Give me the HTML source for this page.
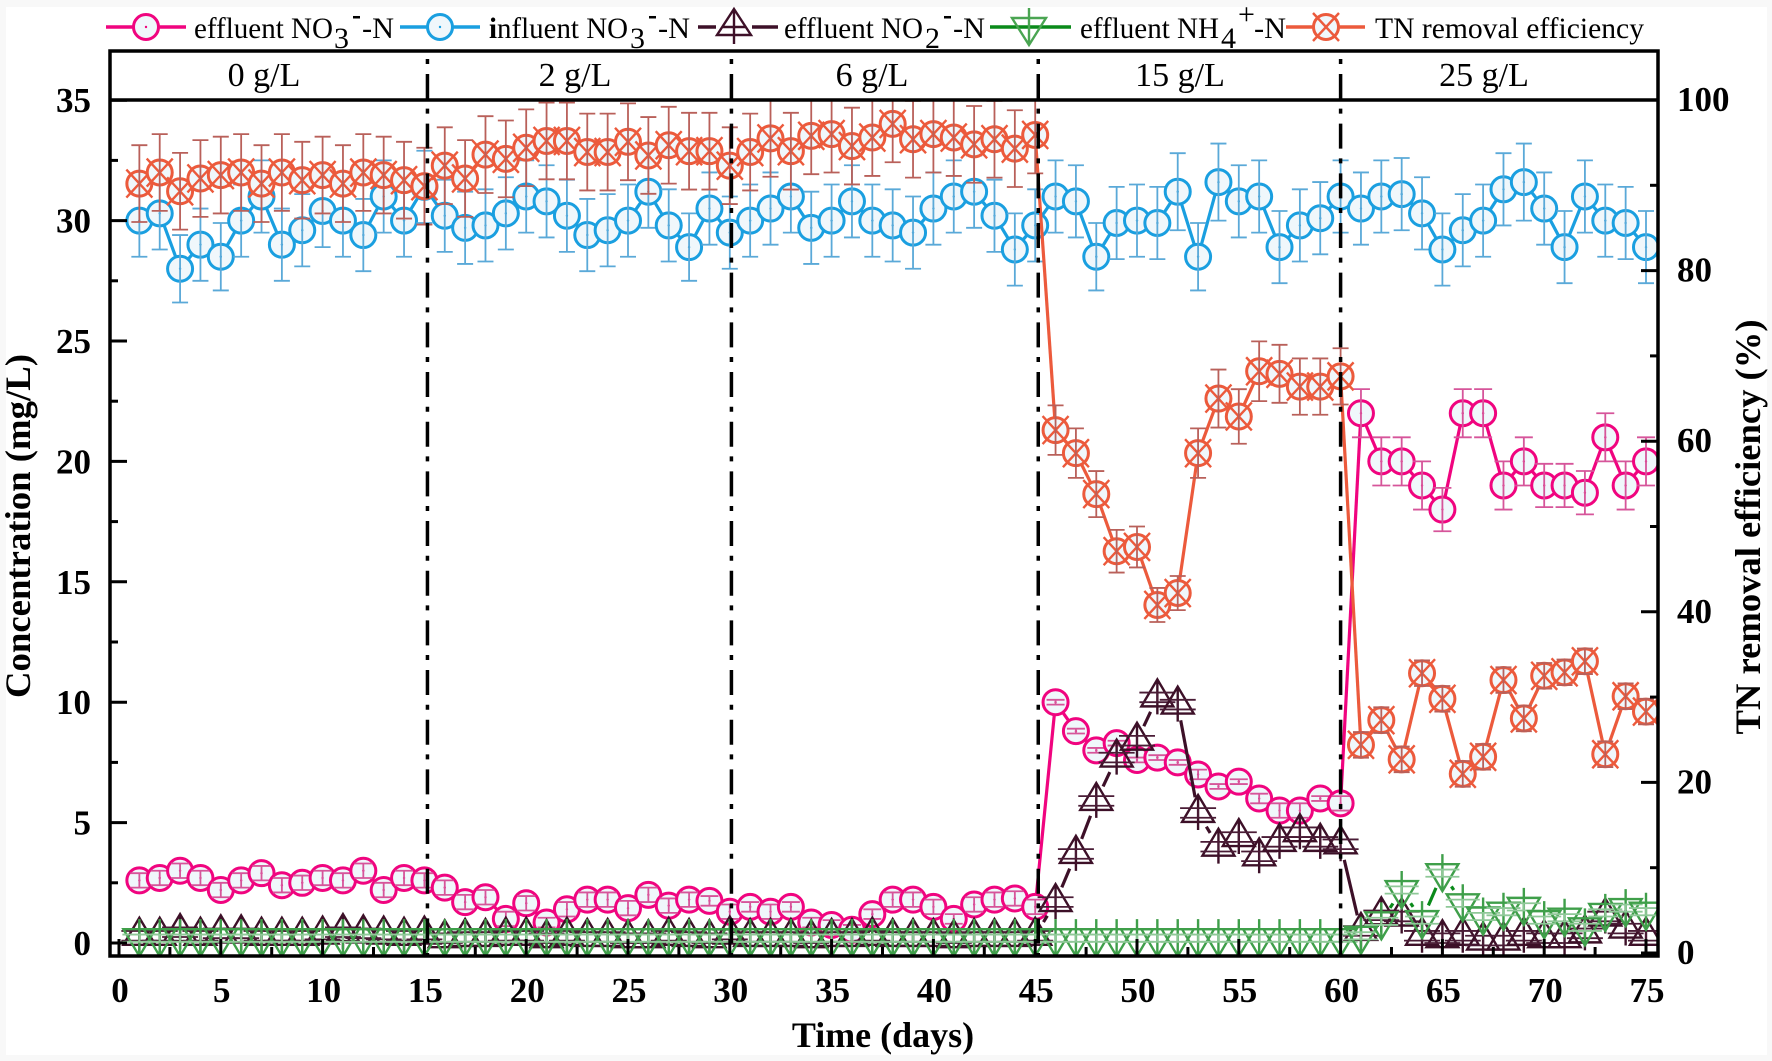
<!DOCTYPE html>
<html>
<head>
<meta charset="utf-8">
<title>Concentration and TN removal efficiency</title>
<style>
html,body{margin:0;padding:0;background:#f8f8f8;}
svg{display:block;}
text{font-family:"Liberation Serif",serif;fill:#000;}
.tick{font-size:35px;font-weight:bold;}
.title{font-size:36px;font-weight:bold;}
.band{font-size:34px;}
.leg{font-size:30px;}
</style>
</head>
<body>
<svg id="chart" width="1772" height="1061" viewBox="0 0 1772 1061" xmlns="http://www.w3.org/2000/svg">
<defs><clipPath id="plot-clip"><rect x="110" y="100" width="1548" height="856"></rect></clipPath></defs>
<rect x="6" y="7" width="1761" height="1048" fill="#ffffff"></rect>

<g>
  <g>
    <line x1="106" x2="186" y1="27" y2="27" stroke="#f0047f" stroke-width="3.5"></line>
    <circle cx="146" cy="27" r="12.5" fill="#f0f7fb" stroke="#f0047f" stroke-width="3"></circle>
    <circle cx="146" cy="27" r="1.2" fill="#f0047f"></circle>
    <text class="leg" x="194" y="38" textLength="139" lengthAdjust="spacingAndGlyphs">effluent NO</text>
    <text class="leg" x="334" y="48">3</text>
    <text class="leg" x="352" y="24" font-weight="bold" textLength="9" lengthAdjust="spacingAndGlyphs">-</text>
    <text class="leg" x="362" y="38" textLength="32" lengthAdjust="spacingAndGlyphs">-N</text>
  </g>
  <g>
    <line x1="400" x2="480" y1="27" y2="27" stroke="#1a9fe0" stroke-width="3.5"></line>
    <circle cx="440" cy="27" r="12.5" fill="#f0f7fb" stroke="#1a9fe0" stroke-width="3"></circle>
    <circle cx="440" cy="27" r="1.2" fill="#1a9fe0"></circle>
    <text class="leg" x="489" y="38" textLength="139" lengthAdjust="spacingAndGlyphs"><tspan font-weight="bold">i</tspan>nfluent NO</text>
    <text class="leg" x="630" y="48">3</text>
    <text class="leg" x="648" y="24" font-weight="bold" textLength="9" lengthAdjust="spacingAndGlyphs">-</text>
    <text class="leg" x="658" y="38" textLength="32" lengthAdjust="spacingAndGlyphs">-N</text>
  </g>
  <g>
    <line x1="698" x2="716" y1="27" y2="27" stroke="#3d1028" stroke-width="3.5"></line>
    <line x1="752" x2="778" y1="27" y2="27" stroke="#3d1028" stroke-width="3.5"></line>
    <path d="M734 9 L751 35 L717 35 Z M734 9 V44 M722 27 H746" fill="none" stroke="#3d1028" stroke-width="2.4"></path>
    <text class="leg" x="784" y="38" textLength="139" lengthAdjust="spacingAndGlyphs">effluent NO</text>
    <text class="leg" x="925" y="48">2</text>
    <text class="leg" x="943" y="24" font-weight="bold" textLength="9" lengthAdjust="spacingAndGlyphs">-</text>
    <text class="leg" x="953" y="38" textLength="32" lengthAdjust="spacingAndGlyphs">-N</text>
  </g>
  <g>
    <line x1="990" x2="1071" y1="27" y2="27" stroke="#0a8a1a" stroke-width="3.5"></line>
    <path d="M1029 45 L1046 18 L1012 18 Z M1029 8 V45" fill="none" stroke="#4aa552" stroke-width="2.4"></path>
    <text class="leg" x="1080" y="38" textLength="139" lengthAdjust="spacingAndGlyphs">effluent NH</text>
    <text class="leg" x="1221" y="48">4</text>
    <text class="leg" x="1238" y="24">+</text>
    <text class="leg" x="1254" y="38" textLength="32" lengthAdjust="spacingAndGlyphs">-N</text>
  </g>
  <g>
    <line x1="1286" x2="1365" y1="27" y2="27" stroke="#ec5a3c" stroke-width="3.5"></line>
    <circle cx="1326" cy="27" r="12.5" fill="#f0f7fb" stroke="#ec5a3c" stroke-width="3"></circle>
    <path d="M1313 13 L1339 41 M1339 13 L1313 41" stroke="#ec5a3c" stroke-width="2.4" fill="none"></path>
    <text class="leg" x="1375" y="38" textLength="269" lengthAdjust="spacingAndGlyphs">TN removal efficiency</text>
  </g>
</g>

<g>
  <text class="band" x="264" y="86" text-anchor="middle">0 g/L</text>
  <text class="band" x="575" y="86" text-anchor="middle">2 g/L</text>
  <text class="band" x="872" y="86" text-anchor="middle">6 g/L</text>
  <text class="band" x="1180" y="86" text-anchor="middle">15 g/L</text>
  <text class="band" x="1484" y="86" text-anchor="middle">25 g/L</text>
</g>

<g id="series-layer" clip-path="url(#plot-clip)"></g>
<g id="divider-layer"></g>

<rect x="110" y="51" width="1548" height="905" fill="none" stroke="#000" stroke-width="3.5"></rect>
<line x1="110" x2="1658" y1="100" y2="100" stroke="#000" stroke-width="3.5"></line>
<g id="axis-layer"></g>

<text class="title" x="883" y="1047" text-anchor="middle">Time (days)</text>
<text class="title" transform="translate(30,526) rotate(-90)" text-anchor="middle" textLength="344" lengthAdjust="spacingAndGlyphs">Concentration (mg/L)</text>
<text class="title" transform="translate(1760,527) rotate(-90)" text-anchor="middle" textLength="415" lengthAdjust="spacingAndGlyphs">TN removal efficiency (%)</text>
</svg>

<script>
const effluentNO3 = [2.6,2.7,3,2.7,2.2,2.6,2.9,2.4,2.5,2.7,2.6,3,2.2,2.7,2.6,2.3,1.7,1.9,1,1.65,0.85,1.4,1.8,1.8,1.45,2,1.55,1.8,1.75,1.3,1.5,1.3,1.5,0.85,0.75,0.55,1.2,1.8,1.8,1.5,1,1.6,1.8,1.85,1.5,10,8.8,8,8.3,7.6,7.7,7.5,7,6.5,6.7,6,5.5,5.5,6,5.8,22,20,20,19,18,22,22,19,20,19,19,18.7,21,19,20];
const effluentNO3Err = [0.3,0.3,0.3,0.3,0.3,0.3,0.3,0.3,0.3,0.3,0.3,0.3,0.3,0.3,0.3,0.3,0.3,0.3,0.3,0.3,0.2,0.3,0.3,0.3,0.3,0.3,0.3,0.3,0.2,0.3,0.2,0.3,0.2,0.2,0.2,0.2,0.2,0.3,0.3,0.3,0.2,0.3,0.3,0.3,0.3,0.1,0.1,0.1,0.1,0.1,0.1,0.1,0.2,0.1,0.1,0.2,0.3,0.3,0.1,0.3,1,1,1,1,0.9,1,1,1,1,0.9,0.9,0.9,1,1,1];
const influentNO3 = [30,30.3,28,29,28.5,30,31,29,29.6,30.4,30,29.4,31,30,31.4,30.2,29.7,29.8,30.3,31,30.8,30.2,29.4,29.6,30,31.2,29.8,28.9,30.5,29.5,30,30.5,31,29.7,30,30.8,30,29.8,29.5,30.5,31,31.2,30.2,28.8,29.8,31,30.8,28.5,29.9,30,29.9,31.2,28.5,31.6,30.8,31,28.9,29.8,30.1,31,30.5,31,31.1,30.3,28.8,29.6,30,31.3,31.6,30.5,28.9,31,30,29.9,28.9];
const influentNO3Err = [1.5,1.5,1.4,1.5,1.4,1.5,1.5,1.5,1.5,1.5,1.5,1.5,1.5,1.5,1.5,1.5,1.5,1.5,1.5,1.5,1.5,1.5,1.5,1.5,1.5,1.5,1.5,1.4,1.5,1.5,1.5,1.5,1.5,1.5,1.5,1.5,1.5,1.5,1.5,1.5,1.5,1.5,1.5,1.5,1.5,1.5,1.5,1.4,1.5,1.5,1.5,1.6,1.4,1.6,1.5,1.5,1.5,1.5,1.5,1.5,1.5,1.5,1.5,1.5,1.5,1.5,1.5,1.5,1.6,1.5,1.5,1.5,1.5,1.5,1.5];
const effluentNO2 = [0.3,0.3,0.45,0.3,0.4,0.4,0.3,0.3,0.3,0.35,0.45,0.4,0.35,0.3,0.35,0.2,0.25,0.25,0.3,0.3,0.2,0.3,0.25,0.25,0.2,0.2,0.3,0.25,0.2,0.35,0.25,0.25,0.25,0.2,0.25,0.25,0.3,0.25,0.25,0.25,0.2,0.25,0.25,0.25,0.3,1.7,3.7,5.9,7.7,8.4,10.2,9.9,5.4,4,4.4,3.6,4.2,4.6,4.2,4.1,0.5,1.15,1.1,0.3,0.2,0.3,0.1,0.1,0.3,0.2,0.2,0.4,1.1,0.6,0.3];
const effluentNO2Err = [0.2,0.2,0.2,0.2,0.2,0.2,0.2,0.2,0.2,0.2,0.2,0.2,0.2,0.2,0.2,0.2,0.2,0.2,0.2,0.2,0.2,0.2,0.2,0.2,0.2,0.2,0.2,0.2,0.2,0.2,0.2,0.2,0.2,0.2,0.2,0.2,0.2,0.2,0.2,0.2,0.2,0.2,0.2,0.2,0.2,0.2,0.2,0.2,0.2,0.2,0.2,0.2,0.2,0.2,0.2,0.2,0.2,0.2,0.2,0.2,0.2,0.2,0.2,0.2,0.2,0.2,0.2,0.2,0.2,0.2,0.2,0.2,0.2,0.2,0.2];
const effluentNH4 = [0.2,0.2,0.2,0.2,0.2,0.2,0.2,0.2,0.2,0.2,0.2,0.2,0.2,0.2,0.2,0.2,0.2,0.2,0.2,0.2,0.2,0.2,0.2,0.2,0.2,0.2,0.2,0.2,0.2,0.2,0.2,0.2,0.2,0.2,0.2,0.2,0.2,0.2,0.2,0.2,0.2,0.2,0.2,0.2,0.2,0.2,0.2,0.2,0.2,0.2,0.2,0.2,0.2,0.2,0.2,0.2,0.2,0.2,0.2,0.2,0.3,0.9,2.2,0.95,2.9,1.65,1.1,1.3,1.5,0.95,1.05,0.65,1.25,1.45,1.3];
const effluentNH4Err = [0.15,0.15,0.15,0.15,0.15,0.15,0.15,0.15,0.15,0.15,0.15,0.15,0.15,0.15,0.15,0.15,0.15,0.15,0.15,0.15,0.15,0.15,0.15,0.15,0.15,0.15,0.15,0.15,0.15,0.15,0.15,0.15,0.15,0.15,0.15,0.15,0.15,0.15,0.15,0.15,0.15,0.15,0.15,0.15,0.15,0.15,0.15,0.15,0.15,0.15,0.15,0.15,0.15,0.15,0.15,0.15,0.15,0.15,0.15,0.15,0.15,0.15,0.15,0.15,0.15,0.15,0.15,0.15,0.15,0.15,0.15,0.15,0.15,0.15,0.15];
const tnRemoval = [90.2,91.5,89.3,90.8,91.2,91.5,90.2,91.5,90.6,91.2,90.2,91.5,91.2,90.6,89.9,92.3,90.8,93.6,93.1,94.4,95.2,95.2,93.9,93.9,95.1,93.5,94.7,94,94,92.3,93.9,95.5,94,95.8,96,94.6,95.6,97.2,95.4,96,95.6,94.8,95.4,94.3,95.9,61.3,58.6,53.8,47.1,47.6,40.8,42.2,58.6,65,62.9,68.2,67.9,66.4,66.4,67.6,24.4,27.3,22.7,32.8,29.8,21,23,32,27.5,32.5,32.9,34.2,23.3,30.1,28.3];
const tnRemovalErr = [4.5,4.5,4.5,4.5,4.5,4.5,4.5,4.5,4.5,4.5,4.5,4.5,4.5,4.5,4.5,4.5,4.5,4.5,4.5,4.5,4.5,4.5,4.5,4.5,4.5,4.5,4.5,4.5,4.5,4.5,4.5,4.5,4.5,4.5,4.5,4.5,4.5,4.5,4.5,4.5,4.5,4.5,4.5,4.5,4.5,2.9,2.9,2.7,2.5,2.4,2,2,2.9,3.4,3.2,3.5,3.4,3.3,3.3,3.3,1.5,1.5,1.5,1.5,1.5,1.5,1.5,1.5,1.5,1.5,1.5,1.5,1.5,1.5,1.5];
const xTickLabels = [0,5,10,15,20,25,30,35,40,45,50,55,60,65,70,75];
const xMinorTicks = [2.5,7.5,12.5,17.5,22.5,27.5,32.5,37.5,42.5,47.5,52.5,57.5,62.5,67.5,72.5];
const yTickLabels = [0,5,10,15,20,25,30,35];
const yMinorTicks = [2.5,7.5,12.5,17.5,22.5,27.5,32.5];
const y2TickLabels = [0,20,40,60,80,100];
const y2MinorTicks = [10,30,50,70,90];
const phaseDays = [15.15,30.08,45.15,60];

const NS = 'http://www.w3.org/2000/svg';
const xAxis = d => 119 + 20.36 * d;
const yAxis = v => 943 - 24.08 * v;
const y2Axis = v => 953 - 8.53 * v;

function mk(tag, attrs, parent) {
  const el = document.createElementNS(NS, tag);
  for (const k in attrs) el.setAttribute(k, attrs[k]);
  parent.appendChild(el);
  return el;
}

const seriesLayer = document.getElementById('series-layer');
const axisLayer = document.getElementById('axis-layer');
const dividerLayer = document.getElementById('divider-layer');

function drawLine(vals, scale, color, gap, parent) {
  for (let i = 0; i < vals.length - 1; i++) {
    const x1 = xAxis(i + 1), y1 = scale(vals[i]), x2 = xAxis(i + 2), y2 = scale(vals[i + 1]);
    const len = Math.hypot(x2 - x1, y2 - y1);
    if (len <= 2 * gap) continue;
    const ux = (x2 - x1) / len, uy = (y2 - y1) / len;
    const seg = mk('line', {x1: x1 + ux * gap, y1: y1 + uy * gap, x2: x2 - ux * gap, y2: y2 - uy * gap, stroke: color, 'stroke-width': 3.2}, parent);
    
    
  }
}

function drawErr(x, v, e, scale, color, cap, parent) {
  const top = scale(v + e), bot = scale(v - e);
  mk('path', {d: 'M' + x + ' ' + top + 'V' + bot + 'M' + (x - cap) + ' ' + top + 'H' + (x + cap) + 'M' + (x - cap) + ' ' + bot + 'H' + (x + cap), stroke: color, 'stroke-width': 1.8, fill: 'none'}, parent);
}

function drawSeries(name, vals, errs, scale, color, errColor, markerType, gap, cap) {
  const g = mk('g', {}, seriesLayer);
  
  
  drawLine(vals, scale, color.line, gap, g);
  vals.forEach((v, i) => {
    const x = xAxis(i + 1), y = scale(v);
    const p = mk('g', {}, g);
    
    
    if (markerType === 'dot' || markerType === 'cross') {
      mk('circle', {cx: x, cy: y, r: 12.5, fill: '#f0f7fb', stroke: color.mark, 'stroke-width': 3}, p);
    }
    if (markerType === 'dot') {
      mk('circle', {cx: x, cy: y, r: 1.2, fill: color.mark}, p);
    }
    if (markerType === 'cross') {
      mk('path', {d: 'M' + (x - 13) + ' ' + (y - 14) + 'L' + (x + 13) + ' ' + (y + 14) + 'M' + (x + 13) + ' ' + (y - 14) + 'L' + (x - 13) + ' ' + (y + 14), stroke: color.mark, 'stroke-width': 2.4, fill: 'none'}, p);
    }
    if (markerType === 'up') {
      mk('path', {d: 'M' + x + ' ' + (y - 18) + 'L' + (x + 16) + ' ' + (y + 9) + 'L' + (x - 16) + ' ' + (y + 9) + 'Z M' + x + ' ' + (y - 18) + 'V' + (y + 17), stroke: color.mark, 'stroke-width': 2.4, fill: 'none'}, p);
    }
    if (markerType === 'down') {
      mk('path', {d: 'M' + x + ' ' + (y + 18) + 'L' + (x + 16) + ' ' + (y - 9) + 'L' + (x - 16) + ' ' + (y - 9) + 'Z M' + x + ' ' + (y + 18) + 'V' + (y - 19), stroke: color.mark, 'stroke-width': 2.4, fill: 'none'}, p);
    }
    drawErr(x, v, errs[i], scale, errColor, cap, p);
  });
}

drawSeries('effluent-no3', effluentNO3, effluentNO3Err, yAxis, {line: '#f0047f', mark: '#f0047f'}, '#d6559a', 'dot', 0, 9);
drawSeries('influent-no3', influentNO3, influentNO3Err, yAxis, {line: '#1a9fe0', mark: '#1a9fe0'}, '#5aa9d8', 'dot', 0, 8);
drawSeries('effluent-no2', effluentNO2, effluentNO2Err, yAxis, {line: '#3d1028', mark: '#3d1028'}, '#4a1c36', 'up', 16, 18);
drawSeries('effluent-nh4', effluentNH4, effluentNH4Err, yAxis, {line: '#0a8a1a', mark: '#3f9f4a'}, '#8fc898', 'down', 16, 17);
drawSeries('tn-removal', tnRemoval, tnRemovalErr, y2Axis, {line: '#ec5a3c', mark: '#ec5a3c'}, '#b9605a', 'cross', 0, 8);

phaseDays.forEach(d => {
  const ln = mk('line', {x1: xAxis(d), x2: xAxis(d), y1: 59, y2: 956, stroke: '#000', 'stroke-width': 3.5, 'stroke-dasharray': '5 10 25 9.67'}, dividerLayer);
  
  
});

function tick(x1, y1, x2, y2) {
  const t = mk('line', {x1: x1, y1: y1, x2: x2, y2: y2, stroke: '#000', 'stroke-width': 3}, axisLayer);
  
  
}
function label(str, x, y, anchor) {
  const t = mk('text', {x: x, y: y, 'text-anchor': anchor, class: 'tick'}, axisLayer);
  
  
  t.textContent = str;
}

xTickLabels.forEach(d => { tick(xAxis(d), 956, xAxis(d), 939); label(d, xAxis(d) + 1, 1002, 'middle'); });
xMinorTicks.forEach(d => { tick(xAxis(d), 956, xAxis(d), 947); });
yTickLabels.forEach(v => { tick(110, yAxis(v), 127, yAxis(v)); label(v, 91, yAxis(v) + 12, 'end'); });
yMinorTicks.forEach(v => { tick(110, yAxis(v), 118, yAxis(v)); });
y2TickLabels.forEach(v => { tick(1658, y2Axis(v), 1641, y2Axis(v)); label(v, 1677, y2Axis(v) + 11, 'start'); });
y2MinorTicks.forEach(v => { tick(1658, y2Axis(v), 1650, y2Axis(v)); });
</script>
</body>
</html>
